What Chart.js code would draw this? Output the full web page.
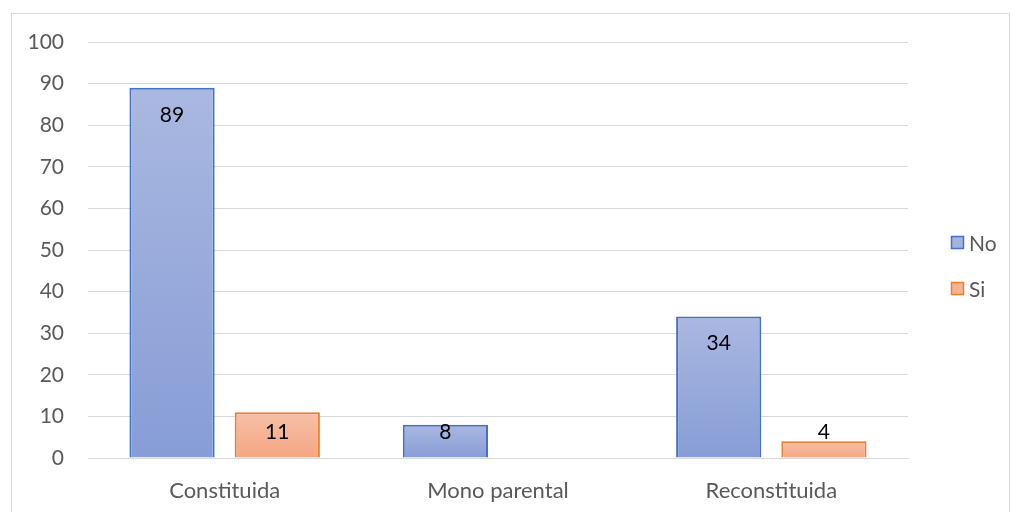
<!DOCTYPE html>
<html><head><meta charset="utf-8">
<script src="https://cdn.jsdelivr.net/npm/chart.js@4"></script>
<style>html,body{margin:0;padding:0;background:#fff}#wrap{width:1012px;height:512px;position:relative}</style>
</head><body><div id="wrap"><canvas id="c" width="1012" height="512"></canvas></div>
<script>
const categories = ["Constituida", "Mono parental", "Reconstituida"];
const seriesNo = [89, 8, 34];
const seriesSi = [11, null, 4];
const seriesLabels = ["No", "Si"];
const FONT = "Lato, 'Open Sans', sans-serif";
const FS = 21;

function barGrad(ctx, top, bottom, fallback) {
  const chart = ctx.chart;
  if (!chart.chartArea || ctx.raw == null) return fallback;
  const ys = chart.scales.y;
  const y0 = ys.getPixelForValue(ctx.raw), y1 = ys.getPixelForValue(0);
  const g = chart.ctx.createLinearGradient(0, y0, 0, Math.max(y1, y0 + 1));
  g.addColorStop(0, top); g.addColorStop(1, bottom); return g;
}

const frame = {
  id: 'frame',
  beforeDraw(chart) {
    const c = chart.ctx; c.save();
    c.strokeStyle = '#d9d9d9'; c.lineWidth = 1;
    c.strokeRect(11.5, 13.5, 998, 510);
    c.restore();
  }
};

const labelsPlugin = {
  id: 'vals',
  afterDatasetsDraw(chart) {
    const c = chart.ctx; c.save();
    c.font = FS + "px " + FONT; c.fillStyle = '#000'; c.textAlign = 'center'; c.textBaseline = 'middle';
    const base = chart.scales.y.getPixelForValue(0);
    chart.data.datasets.forEach((ds, i) => {
      chart.getDatasetMeta(i).data.forEach((bar, j) => {
        const v = ds.data[j]; if (v == null) return;
        const y = Math.min(bar.y + 27, base - 26);
        c.fillText(String(v), bar.x, y);
      });
    });
    const items = [{t: seriesLabels[0], f: '#a3b3de', s: '#4472c4', y: 243}, {t: seriesLabels[1], f: '#f6b395', s: '#ed7d31', y: 289}];
    items.forEach(it => {
      c.fillStyle = it.f; c.fillRect(951.5, it.y - 6.5, 12, 12);
      c.strokeStyle = it.s; c.lineWidth = 1.5; c.strokeRect(951.5, it.y - 6.5, 12, 12);
      c.fillStyle = '#595959'; c.textAlign = 'left'; c.font = FS + "px " + FONT;
      c.fillText(it.t, 969, it.y + 1);
    });
    c.restore();
  }
};

new Chart(document.getElementById('c'), {
  type: 'bar',
  data: {
    labels: categories,
    datasets: [
      { label: seriesLabels[0], data: seriesNo,
        backgroundColor: (ctx) => barGrad(ctx, '#aab8e1', '#879dd6', '#9aaddc'),
        borderColor: '#4472c4', borderWidth: 2 },
      { label: seriesLabels[1], data: seriesSi,
        backgroundColor: (ctx) => barGrad(ctx, '#f7c0a7', '#f4a682', '#f6b395'),
        borderColor: '#ed7d31', borderWidth: 2 }
    ]
  },
  options: {
    responsive: false, animation: false,
    categoryPercentage: 0.77, barPercentage: 0.81,
    layout: { padding: { left: 0, top: 42, right: 104, bottom: 0 } },
    plugins: { legend: { display: false }, tooltip: { enabled: false } },
    scales: {
      x: {
        grid: { display: false, drawTicks: false },
        border: { display: true, color: '#d9d9d9', width: 1 },
        ticks: { color: '#595959', font: { size: FS + 1, family: FONT }, padding: 20 },
        afterFit(s) { s.height = 54; }
      },
      y: {
        min: 0, max: 100,
        grid: { color: '#d9d9d9', drawTicks: false },
        border: { display: false },
        ticks: { stepSize: 10, color: '#595959', font: { size: FS, family: FONT }, padding: 24 },
        afterFit(s) { s.width = 88; }
      }
    }
  },
  plugins: [frame, labelsPlugin]
});
</script></body></html>
